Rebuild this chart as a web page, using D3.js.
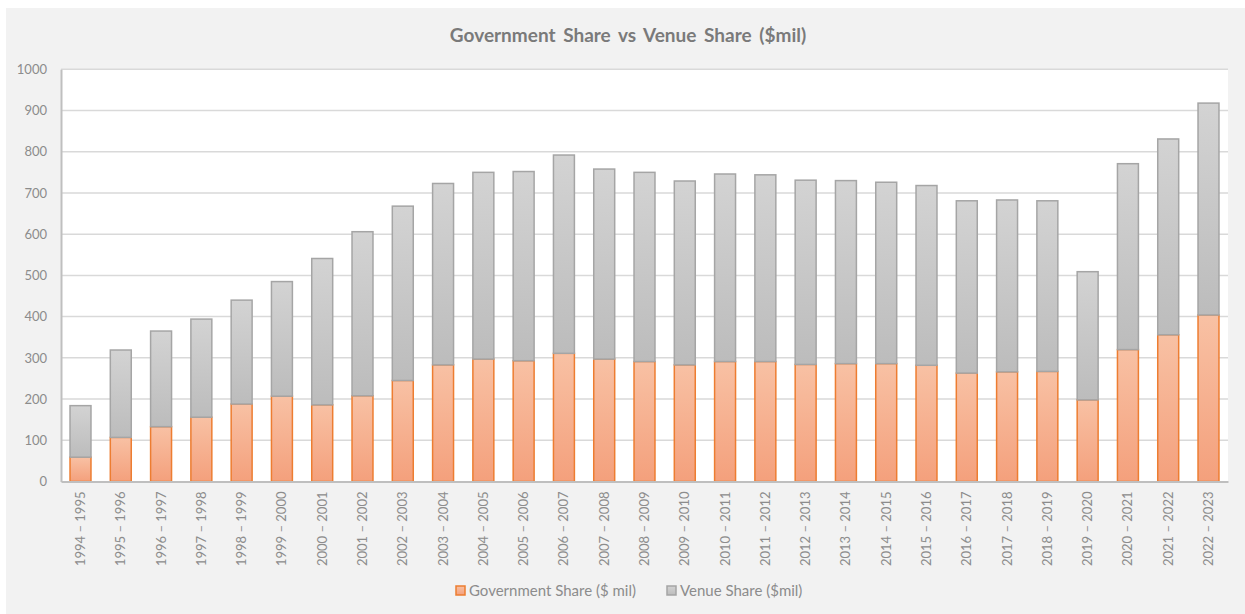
<!DOCTYPE html>
<html>
<head>
<meta charset="utf-8">
<script src="https://cdn.jsdelivr.net/npm/d3@7"></script>
<style>
  body { margin: 0; background: #ffffff; }
  text { font-family: Lato, "Open Sans", sans-serif; }
</style>
</head>
<body>
<script>
var seasons = ['1994 – 1995','1995 – 1996','1996 – 1997','1997 – 1998','1998 – 1999','1999 – 2000',
               '2000 – 2001','2001 – 2002','2002 – 2003','2003 – 2004','2004 – 2005','2005 – 2006',
               '2006 – 2007','2007 – 2008','2008 – 2009','2009 – 2010','2010 – 2011','2011 – 2012',
               '2012 – 2013','2013 – 2014','2014 – 2015','2015 – 2016','2016 – 2017','2017 – 2018',
               '2018 – 2019','2019 – 2020','2020 – 2021','2021 – 2022','2022 – 2023'];
var govShare = [59, 107, 133, 156, 188, 207, 186, 208, 245, 283, 297, 293, 311, 297, 291,
                283, 291, 291, 284, 286, 286, 282, 263, 266, 267, 198, 320, 356, 404];
var venueShare = [125, 212, 232, 238, 252, 278, 355, 398, 423, 440, 453, 459, 481, 461, 459,
                  446, 455, 453, 447, 444, 440, 436, 418, 417, 414, 311, 451, 475, 514];
var yTicks = [0, 100, 200, 300, 400, 500, 600, 700, 800, 900, 1000];
var seriesNames = ['Government Share ($ mil)', 'Venue Share ($mil)'];

var W = 1245, H = 614;
var plotLeft = 61, plotRight = 1228, plotTop = 69.3, plotBottom = 481.5;

var svg = d3.select('body')
            .append('svg')
            .attr('width', W)
            .attr('height', H);

var defs = svg.append('defs');
var govGrad = defs.append('linearGradient').attr('id', 'govGrad')
                  .attr('x1', 0).attr('y1', 0).attr('x2', 0).attr('y2', 1);
govGrad.append('stop').attr('offset', '0%').attr('stop-color', '#f8c1a4');
govGrad.append('stop').attr('offset', '100%').attr('stop-color', '#f4a07c');
var venueGrad = defs.append('linearGradient').attr('id', 'venueGrad')
                  .attr('x1', 0).attr('y1', 0).attr('x2', 0).attr('y2', 1);
venueGrad.append('stop').attr('offset', '0%').attr('stop-color', '#d3d3d3');
venueGrad.append('stop').attr('offset', '100%').attr('stop-color', '#bcbcbc');

// chart background
svg.append('rect')
    .attr('x', 6).attr('y', 8)
    .attr('width', W - 6).attr('height', H - 8)
    .attr('fill', '#f2f2f2');

svg.append('rect')
    .attr('x', plotLeft).attr('y', plotTop)
    .attr('width', plotRight - plotLeft).attr('height', plotBottom - plotTop)
    .attr('fill', '#ffffff');

var x = d3.scaleBand()
            .domain(seasons)
            .range([plotLeft, plotRight])
            .paddingInner(0.48)
            .paddingOuter(0.224);

var y = d3.scaleLinear()
            .domain([0, 1000])
            .range([plotBottom, plotTop]);

// gridlines
svg.append('g')
    .selectAll('line')
    .data(yTicks.slice(1))
    .enter().append('line')
        .attr('x1', plotLeft)
        .attr('x2', plotRight)
        .attr('y1', function(d){ return y(d); })
        .attr('y2', function(d){ return y(d); })
        .attr('stroke', '#d9d9d9')
        .attr('stroke-width', 1.5);

var yAxis = d3.axisLeft(y).tickValues(yTicks).tickFormat(d3.format('d')).tickSize(0).tickPadding(14);
var gy = svg.append('g')
    .attr('transform', 'translate(' + plotLeft + ',0)')
    .call(yAxis);
gy.select('.domain').attr('stroke', '#bfbfbf').attr('stroke-width', 2);
gy.selectAll('text').attr('fill', '#8c8c8c').attr('font-size', 13)
    .attr('font-family', 'Lato, sans-serif');

// stacked bars
var stacked = d3.stack().keys([0, 1])(seasons.map(function(s, i){
    return [govShare[i], venueShare[i]];
}));
var fills = ['url(#govGrad)', 'url(#venueGrad)'];
var strokes = ['#ed7d31', '#a5a5a5'];

stacked.forEach(function(layer, k){
    svg.append('g')
        .selectAll('rect')
        .data(layer)
        .enter().append('rect')
            .attr('x', function(d, i){ return x(seasons[i]); })
            .attr('width', x.bandwidth())
            .attr('y', function(d){ return y(d[1]); })
            .attr('height', function(d){ return y(d[0]) - y(d[1]); })
            .attr('fill', fills[k])
            .attr('stroke', strokes[k])
            .attr('stroke-width', 1.5);
});

var xAxis = d3.axisBottom(x).tickSize(0).tickPadding(0);
var gx = svg.append('g')
    .attr('transform', 'translate(0,' + plotBottom + ')')
    .call(xAxis);
gx.select('.domain').attr('stroke', '#bfbfbf').attr('stroke-width', 2);
gx.selectAll('text')
    .attr('fill', '#8c8c8c')
    .attr('font-size', 13)
    .attr('font-family', 'Lato, sans-serif')
    .attr('text-anchor', 'end')
    .attr('dy', '0.35em')
    .attr('transform', 'translate(0,10) rotate(-90)')
    .attr('y', 0)
    .attr('x', 0);

// title
svg.append('text')
    .attr('x', 628)
    .attr('y', 42)
    .attr('text-anchor', 'middle')
    .attr('font-size', 19)
    .attr('font-weight', 'bold')
    .attr('word-spacing', 3)
    .attr('fill', '#7a7a7a')
    .text('Government Share vs Venue Share ($mil)');

// legend
var legendX = [456, 667];
var legend = svg.append('g').selectAll('g')
    .data(seriesNames)
    .enter().append('g')
        .attr('transform', function(d, i){ return 'translate(' + legendX[i] + ',586)'; });
legend.append('rect')
    .attr('width', 9).attr('height', 9)
    .attr('fill', function(d, i){ return fills[i]; })
    .attr('stroke', function(d, i){ return strokes[i]; })
    .attr('stroke-width', 1.5);
legend.append('text')
    .attr('x', 13)
    .attr('y', 10)
    .attr('font-size', 15)
    .attr('fill', '#8c8c8c')
    .text(function(d){ return d; });
</script>
</body>
</html>
